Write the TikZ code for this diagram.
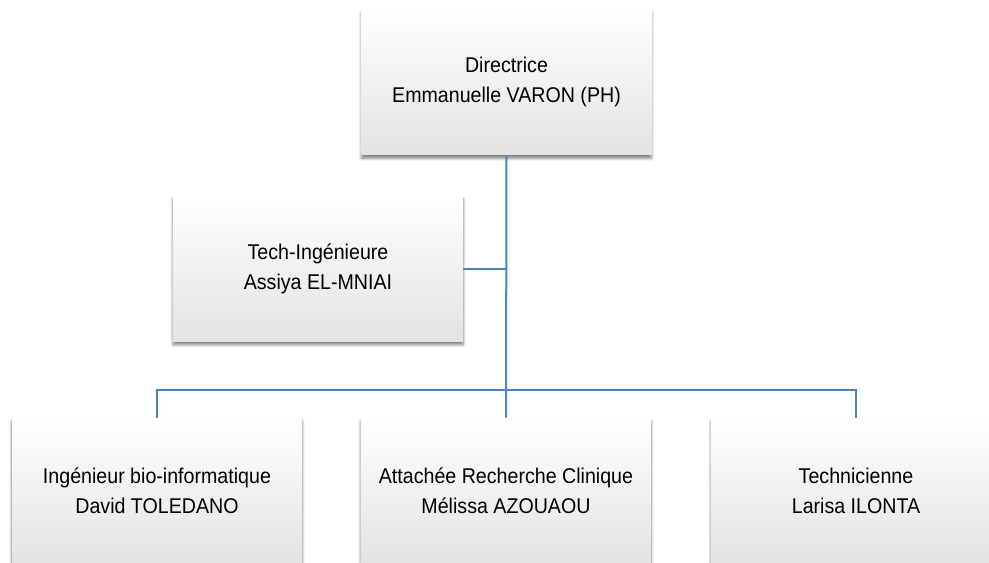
\documentclass[tikz,border=0pt]{standalone}
\usepackage{fontspec}
\setmainfont{Liberation Sans}[FakeStretch=0.92]
\usetikzlibrary{shadows.blur}
\begin{document}
\begin{tikzpicture}[x=0.75pt,y=-0.75pt,
  orgbox/.style={rectangle, minimum width=217.5pt, minimum height=109.5pt,
    top color=white, bottom color=black!11, draw=none, align=center,
    font=\fontsize{16}{22.5}\selectfont,
    blur shadow={shadow xshift=0pt, shadow yshift=-2.5pt, shadow blur steps=6, shadow opacity=50}},
  link/.style={draw={rgb,255:red,79;green,129;blue,189}, line width=1.5pt}]
\useasboundingbox (0,0) rectangle (989,563);
\clip (0,0) rectangle (989,563);
\node[orgbox] (dir) at (506.5,82) {Directrice\\Emmanuelle VARON (PH)};
\node[orgbox] (tech) at (318,268.5) {Tech-Ingénieure\\Assiya EL-MNIAI};
\node[orgbox] (ing) at (157,491) {Ingénieur bio-informatique\\David TOLEDANO};
\node[orgbox] (arc) at (506,491) {Attachée Recherche Clinique\\Mélissa AZOUAOU};
\node[orgbox] (techn) at (856,491) {Technicienne\\Larisa ILONTA};
\coordinate (bus) at (506,390);
\path[link] (dir.south) -- (arc.north);
\path[link] (tech.east) -- (tech.east -| dir.south);
\path[link] (ing.north) |- (bus) -| (techn.north);
\end{tikzpicture}
\end{document}
